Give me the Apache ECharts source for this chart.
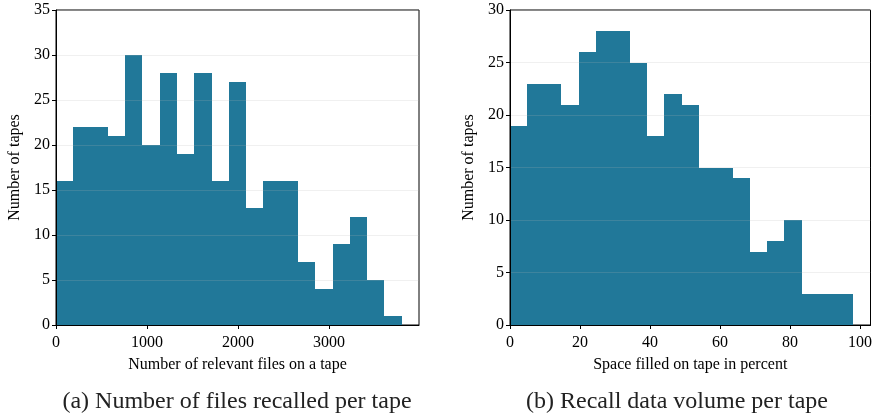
<!DOCTYPE html>
<html>
<head>
<meta charset="utf-8">
<script src="https://cdn.jsdelivr.net/npm/echarts@6/dist/echarts.min.js"></script>
<style>
  html, body { margin: 0; padding: 0; background: #fff; }
  #main { width: 875px; height: 415px; }
</style>
</head>
<body>
<div id="main"></div>
<script>
// left histogram: number of relevant files per tape
var filesEdges = [0, 190, 380, 570, 760, 950, 1140, 1330, 1520, 1710, 1900,
                  2090, 2280, 2470, 2660, 2850, 3040, 3230, 3420, 3610, 3800];
var filesCounts = [16, 22, 22, 21, 30, 20, 28, 19, 28, 16, 27, 13, 16, 16, 7, 4, 9, 12, 5, 1];

// right histogram: space filled on tape (percent)
var spaceEdges = [0, 4.9, 9.8, 14.7, 19.6, 24.5, 29.4, 34.3, 39.2, 44.1, 49,
                  53.9, 58.8, 63.7, 68.6, 73.5, 78.4, 83.3, 88.2, 93.1, 98];
var spaceCounts = [19, 23, 23, 21, 26, 28, 28, 25, 18, 22, 21, 15, 15, 14, 7, 8, 10, 3, 3, 3];

var captions = ['(a) Number of files recalled per tape', '(b) Recall data volume per tape'];

var barColor = '#217899';
var font = 'Liberation Serif';

function toBins(edges, counts) {
  var out = [];
  for (var i = 0; i < counts.length; i++) {
    out.push([edges[i], edges[i + 1], counts[i]]);
  }
  return out;
}

function renderBin(params, api) {
  var p0 = api.coord([api.value(0), api.value(2)]);
  var p1 = api.coord([api.value(1), 0]);
  var x0 = Math.round(p0[0]), x1 = Math.round(p1[0]);
  var y0 = Math.round(p0[1]);
  return {
    type: 'rect',
    shape: { x: x0, y: y0, width: x1 - x0, height: p1[1] - y0 },
    style: { fill: barColor }
  };
}

function xAx(idx, max, interval, name) {
  return {
    type: 'value', gridIndex: idx, min: 0, max: max, interval: interval, z: 3,
    name: name, nameLocation: 'middle', nameGap: 32,
    nameTextStyle: { fontFamily: font, fontSize: 16, color: '#000' },
    axisLine: { show: true, onZero: false, lineStyle: { color: '#000', width: 1 } },
    axisTick: { show: true, inside: false, length: 4, lineStyle: { color: '#000' } },
    axisLabel: { fontFamily: font, fontSize: 16, color: '#000', margin: 10, showMaxLabel: false,
                 formatter: function (v) { return String(v); } },
    splitLine: { show: false }
  };
}

function yAx(idx, max, name) {
  return {
    type: 'value', gridIndex: idx, min: 0, max: max, interval: 5, z: 3,
    name: name, nameLocation: 'middle', nameGap: 33,
    nameTextStyle: { fontFamily: font, fontSize: 16, color: '#000' },
    axisLine: { show: true, lineStyle: { color: '#000', width: 1 } },
    axisTick: { show: true, inside: false, length: 4, lineStyle: { color: '#000' } },
    axisLabel: { fontFamily: font, fontSize: 16, color: '#000', margin: 6 },
    splitLine: { show: true, lineStyle: { color: 'rgba(180,180,180,0.2)', width: 1 } }
  };
}

var myChart = echarts.init(document.getElementById('main'));
var option = {
  animation: false,
  backgroundColor: '#fff',
  title: [
    { text: captions[0], left: 232, top: 385, textAlign: 'center',
      textStyle: { fontFamily: font, fontSize: 24, fontWeight: 'normal', color: '#222' } },
    { text: captions[1], left: 672, top: 385, textAlign: 'center',
      textStyle: { fontFamily: font, fontSize: 24, fontWeight: 'normal', color: '#222' } }
  ],
  grid: [
    { left: 56, top: 10, width: 363, height: 315, show: true, borderColor: '#000', borderWidth: 1, backgroundColor: 'transparent' },
    { left: 510, top: 10, width: 363, height: 315, show: true, borderColor: '#000', borderWidth: 1, backgroundColor: 'transparent' }
  ],
  xAxis: [
    xAx(0, 3990, 1000, 'Number of relevant files on a tape'),
    xAx(1, 103, 20, 'Space filled on tape in percent')
  ],
  yAxis: [
    yAx(0, 35, 'Number of tapes'),
    yAx(1, 30, 'Number of tapes')
  ],
  series: [
    { type: 'custom', xAxisIndex: 0, yAxisIndex: 0, z: 2, renderItem: renderBin,
      encode: { x: [0, 1], y: 2 }, data: toBins(filesEdges, filesCounts) },
    { type: 'custom', xAxisIndex: 1, yAxisIndex: 1, z: 2, renderItem: renderBin,
      encode: { x: [0, 1], y: 2 }, data: toBins(spaceEdges, spaceCounts) }
  ]
};
myChart.setOption(option);
</script>
</body>
</html>
